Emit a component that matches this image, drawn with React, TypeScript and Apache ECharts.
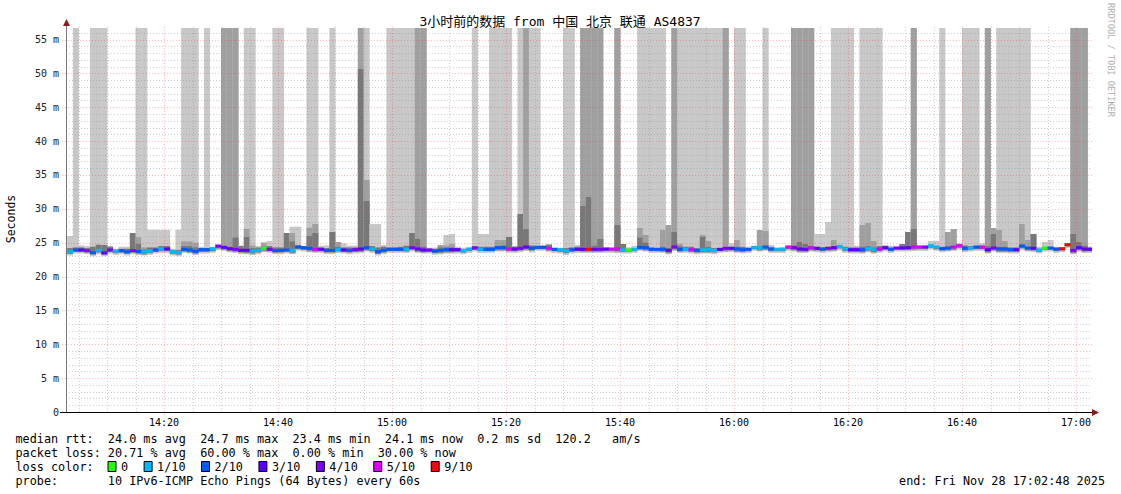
import { useEffect, useRef } from 'react';
import * as echarts from 'echarts';

// ---------- texts ----------
const TITLE = '3小时前的数据 from 中国 北京 联通 AS4837';
const WATERMARK = 'RRDTOOL / TOBI OETIKER';
const Y_NAME = 'Seconds';
const LINE_RTT = 'median rtt:  24.0 ms avg  24.7 ms max  23.4 ms min  24.1 ms now  0.2 ms sd  120.2   am/s';
const LINE_LOSS = 'packet loss: 20.71 % avg  60.00 % max  0.00 % min  30.00 % now';
const LINE_COLOR = 'loss color:';
const LINE_PROBE = 'probe:       10 IPv6-ICMP Echo Pings (64 Bytes) every 60s';
const LINE_END = 'end: Fri Nov 28 17:02:48 2025';

// ---------- axes ----------
const X_START = 2.8; // minutes after 14:00 -> 14:02:48
const X_END = 182.8; // 17:02:48
const FIRST_STEP = 3; // first 60 s step begins 14:03
const Y_MAX = 56.7;
const Y_TICKS = [0, 5, 10, 15, 20, 25, 30, 35, 40, 45, 50, 55];
const X_LABELS = ['14:20', '14:40', '15:00', '15:20', '15:40', '16:00', '16:20', '16:40', '17:00'];
const X_MINOR = ['14:05', '14:10', '14:15', '14:25', '14:30', '14:35', '14:45', '14:50', '14:55',
  '15:05', '15:10', '15:15', '15:25', '15:30', '15:35', '15:45', '15:50', '15:55',
  '16:05', '16:10', '16:15', '16:25', '16:30', '16:35', '16:45', '16:50', '16:55'];

// ---------- loss legend ----------
const LOSS_LEVELS = [0, 1, 2, 3, 4, 5, 9];
const LOSS_LABELS = ['0', '1/10', '2/10', '3/10', '4/10', '5/10', '9/10'];
const LOSS_COLORS = ['#26ff00', '#00b8ff', '#0059ff', '#5e00ff', '#7e00ff', '#dd00ff', '#ff0000'];

// ---------- data, one value per 60 s step (180 steps) ----------
const F = 57; // smoke reaching the top of the graph
const MEDIAN = [
  23.68, 23.92, 23.92, 23.82, 23.53, 23.87, 23.48, 23.92, 23.77, 23.82,
  23.68, 23.82, 23.72, 23.68, 23.77, 23.92, 24.07, 24.07, 23.68, 23.53,
  24.02, 23.92, 23.72, 23.97, 23.97, 24.07, 24.51, 24.32, 24.12, 24.02,
  23.87, 23.87, 23.77, 23.87, 24.17, 24.02, 23.82, 23.87, 23.92, 23.87,
  24.37, 24.27, 24.17, 24.02, 24.02, 23.87, 23.87, 24.02, 23.92, 23.87,
  23.97, 24.07, 24.27, 24.07, 23.68, 23.87, 24.02, 24.02, 24.02, 24.02,
  24.27, 24.07, 23.92, 23.92, 23.77, 23.87, 23.97, 23.97, 23.97, 23.82,
  24.07, 24.22, 24.02, 24.02, 24.02, 24.27, 24.27, 24.07, 24.07, 24.17,
  24.37, 24.17, 24.32, 24.32, 24.17, 24.02, 23.97, 23.77, 23.97, 24.02,
  24.02, 24.02, 24.02, 24.02, 24.07, 24.07, 24.07, 23.92, 23.92, 24.02,
  24.32, 24.27, 24.02, 24.02, 24.02, 23.87, 24.37, 24.02, 24.02, 23.97,
  23.87, 23.97, 23.97, 23.87, 24.02, 24.17, 24.17, 24.07, 23.97, 24.02,
  24.32, 24.22, 24.37, 24.07, 24.02, 24.07, 24.37, 24.27, 24.07, 24.02,
  24.27, 24.17, 24.07, 24.17, 24.27, 24.46, 24.07, 23.97, 23.97, 23.97,
  24.17, 23.97, 24.07, 24.27, 24.02, 24.22, 24.22, 24.27, 24.37, 24.37,
  24.37, 24.56, 24.37, 24.12, 24.22, 24.37, 24.56, 24.17, 24.22, 24.37,
  24.32, 23.97, 24.22, 24.07, 24.07, 23.97, 23.97, 24.51, 24.22, 24.17,
  23.92, 24.22, 24.22, 24.07, 24.12, 24.71, 23.87, 24.27, 24.07, 24.02,
];
const LOSS = [
  1, 2, 3, 4, 2, 1, 3, 4, 1, 2,
  2, 4, 2, 1, 1, 2, 1, 3, 1, 1,
  2, 2, 2, 2, 2, 1, 4, 3, 3, 4,
  3, 3, 1, 1, 0, 4, 2, 2, 2, 1,
  2, 2, 2, 5, 3, 2, 2, 1, 3, 2,
  4, 3, 2, 1, 2, 2, 2, 2, 2, 1,
  4, 3, 3, 4, 2, 2, 2, 3, 3, 1,
  1, 4, 1, 2, 2, 2, 2, 5, 3, 4,
  3, 2, 2, 2, 5, 2, 1, 1, 2, 3,
  3, 9, 3, 4, 3, 5, 5, 1, 0, 1,
  2, 2, 2, 2, 2, 3, 4, 2, 1, 5,
  2, 1, 1, 1, 3, 4, 3, 2, 2, 2,
  1, 1, 2, 2, 1, 1, 5, 4, 3, 3,
  5, 3, 2, 4, 3, 1, 1, 3, 3, 2,
  1, 1, 5, 3, 2, 4, 3, 3, 5, 5,
  4, 1, 1, 2, 2, 5, 5, 2, 1, 2,
  5, 3, 4, 2, 2, 2, 3, 2, 2, 3,
  1, 0, 2, 2, 9, 9, 4, 3, 3, 3,
];
const SMOKE_TOP = [
  25.99, F, 24.6, 24.5, F, F, F, 24.5, 24.1, 24.4,
  24.4, 26.43, F, F, 26.9, 26.9, 26.9, 26.9, 24.1, 26.9,
  F, F, F, 24.4, F, 24.4, 24.66, F, F, F,
  24.6, F, F, 24.5, 25.1, 25.25, F, F, 26.43, 27.37,
  27.37, 24.5, F, F, 24.56, 24.6, F, 25.1, 24.9, 24.56,
  24.56, F, F, 27.76, 27.76, 24.66, F, F, F, F,
  F, F, F, 24.27, 24.27, 24.66, 26.14, 26.28, 24.4, 24.27,
  24.27, F, 26.28, 26.28, F, F, F, F, 24.56, F,
  F, F, F, 24.66, 24.8, 24.27, 24.27, F, F, 24.66,
  F, F, F, F, 24.3, 24.2, F, 24.81, 24.32, 24.56,
  F, F, F, F, F, 27.61, F, F, F, F,
  F, F, F, F, F, F, 24.91, F, F, 24.41,
  24.5, 26.88, F, 24.66, 24.27, 24.27, 24.56, F, F, F,
  F, 26.28, 26.28, 28.06, F, F, F, F, 24.56, F,
  F, F, F, 24.66, 24.56, 24.41, 24.81, 26.58, F, 24.56,
  24.56, 25.25, 25.25, F, 26.58, 27.02, 24.9, F, F, F,
  24.9, F, 27.17, F, F, F, F, F, F, 26.28,
  24.41, 25.1, 25.4, 24.41, 24.27, 24.9, F, F, F, 24.41,
];
const SMOKE_MID = [
  0, 0, 0, 0, 0, 0, 0, 0, 0, 0,
  0, 0, 25.8, 24.3, 0, 0, 0, 0, 0, 0,
  25.2, 25.2, 25.0, 0, 0, 0, 0, F, F, F,
  0, 27.02, 24.6, 0, 24.9, 0, 0, 0, 0, 26.43,
  0, 0, 27.22, 27.76, 0, 0, 0, 25.1, 0, 0,
  0, F, 34.26, 0, 0, 0, 0, 0, 0, 24.6,
  0, F, F, 0, 0, 24.66, 24.6, 24.8, 0, 0,
  0, 0, 0, 0, 0, 25.4, 25.4, 0, 0, 0,
  F, 0, 0, 0, 0, 0, 0, 0, 0, 0,
  F, F, F, F, 0, 0, F, 0, 0, 0,
  27.17, 26.14, 0, 0, 26.88, 27.61, F, 24.81, 0, 0,
  0, 26.14, 25.25, 0, 0, F, 0, 25.4, 0, 0,
  0, 26.88, 26.73, 0, 0, 0, 0, F, F, F,
  F, 0, 0, 0, 25.4, 0, 0, 0, 0, 27.61,
  27.91, 25.25, 0, 0, 0, 0, 0, 0, F, 0,
  0, 0, 0, 0, 26.58, 27.02, 0, 0, 0, 0,
  0, F, 27.17, 26.88, 25.25, 0, 0, 27.76, 25.4, 0,
  0, 0, 0, 0, 0, 0, F, F, F, 0,
];
const SMOKE_DARK = [
  24.2, 24.3, 24.3, 24.2, 24.4, 24.7, 24.66, 24.4, 23.9, 24.1,
  24.1, 26.43, 24.8, 24.0, 24.3, 24.3, 24.5, 24.5, 23.9, 23.9,
  24.5, 24.5, 24.3, 24.2, 24.2, 24.3, 24.6, 24.5, 24.4, 25.74,
  24.5, 25.84, 24.2, 24.3, 24.4, 24.5, 24.3, 24.3, 26.43, 25.2,
  24.6, 24.4, 25.99, 26.43, 24.3, 24.2, 26.58, 24.4, 24.3, 24.3,
  24.3, 50.65, 31.16, 24.5, 24.3, 24.4, 24.3, 24.3, 24.4, 24.5,
  26.43, 25.55, 24.4, 24.1, 24.1, 24.3, 24.3, 24.3, 24.2, 24.0,
  24.2, 24.5, 24.4, 24.4, 24.4, 24.5, 24.6, 25.84, 24.4, 29.24,
  27.02, 24.6, 24.4, 24.4, 24.7, 24.1, 24.1, 24.2, 24.3, 24.4,
  30.42, 31.75, 24.56, 25.55, 24.2, 24.1, 27.61, 24.81, 24.1, 24.2,
  25.74, 25.0, 24.3, 24.2, 24.4, 24.2, 26.58, 24.5, 24.4, 24.4,
  24.2, 25.84, 24.4, 24.2, 24.2, 24.3, 24.4, 24.4, 24.4, 24.2,
  24.4, 24.4, 24.5, 24.3, 24.1, 24.1, 24.5, 24.6, 25.1, 24.8,
  24.5, 24.4, 24.3, 24.4, 24.5, 24.6, 24.4, 24.3, 24.3, 24.4,
  24.5, 24.3, 24.5, 24.5, 24.3, 24.3, 24.81, 26.58, 27.02, 24.5,
  24.5, 24.6, 24.5, 24.4, 24.4, 24.5, 24.8, 24.6, 24.5, 24.5,
  24.6, 24.5, 26.28, 24.4, 24.4, 24.3, 24.3, 24.7, 24.4, 26.28,
  24.1, 24.3, 24.3, 24.2, 24.2, 24.8, 26.28, 25.1, 24.56, 24.3,
];
const SMOKE_LOW = [
  23.1, 23.4, 23.4, 23.3, 23.0, 23.3, 23.0, 23.4, 23.2, 23.3,
  23.1, 23.3, 23.2, 23.1, 23.2, 23.4, 23.5, 23.5, 23.1, 23.0,
  23.5, 23.4, 23.2, 23.4, 23.4, 23.5, 23.9, 23.8, 23.6, 23.5,
  23.3, 23.3, 23.2, 23.3, 23.6, 23.5, 23.3, 23.3, 23.4, 23.3,
  23.8, 23.7, 23.6, 23.5, 23.5, 23.3, 23.3, 23.5, 23.4, 23.3,
  23.4, 23.5, 23.7, 23.5, 23.1, 23.3, 23.5, 23.5, 23.5, 23.5,
  23.7, 23.5, 23.4, 23.4, 23.2, 23.3, 23.4, 23.4, 23.4, 23.3,
  23.5, 23.7, 23.5, 23.5, 23.5, 23.7, 23.7, 23.5, 23.5, 23.6,
  23.8, 23.6, 23.8, 23.8, 23.6, 23.5, 23.4, 23.2, 23.4, 23.5,
  23.5, 23.5, 23.5, 23.5, 23.5, 23.5, 23.5, 23.4, 23.4, 23.5,
  23.8, 23.7, 23.5, 23.5, 23.5, 23.3, 23.8, 23.5, 23.5, 23.4,
  23.3, 23.4, 23.4, 23.3, 23.5, 23.6, 23.6, 23.5, 23.4, 23.5,
  23.8, 23.7, 23.8, 23.5, 23.5, 23.5, 23.8, 23.7, 23.5, 23.5,
  23.7, 23.6, 23.5, 23.6, 23.7, 23.9, 23.5, 23.4, 23.4, 23.4,
  23.6, 23.4, 23.5, 23.7, 23.5, 23.7, 23.7, 23.7, 23.8, 23.8,
  23.8, 24.0, 23.8, 23.6, 23.7, 23.8, 24.0, 23.6, 23.7, 23.8,
  23.8, 23.4, 23.7, 23.5, 23.5, 23.4, 23.4, 24.0, 23.7, 23.6,
  23.4, 23.7, 23.7, 23.5, 23.6, 24.2, 23.3, 23.7, 23.5, 23.5,
];

// ---------- style ----------
const MONO = "'DejaVu Sans Mono', 'Noto Sans CJK SC', monospace";
const C_LIGHT = '#c8c8c8';
const C_MEDIUM = '#a0a0a0';
const C_DARK = '#787878';
const C_MINOR = 'rgba(140,140,140,0.42)';
const C_MAJOR = 'rgba(255,40,40,0.32)';
const LEGEND_FS = 11.8;
const CW = LEGEND_FS * 0.602;

const toMin = (s: string) => {
  const [h, m] = s.split(':').map(Number);
  return (h - 14) * 60 + m;
};
const fmtMin = (v: number) => {
  const t = Math.round(v);
  const h = 14 + Math.floor(t / 60);
  const m = t % 60;
  return `${h}:${String(m).padStart(2, '0')}`;
};
const nb = (s: string) => s.replace(/ /g, '\u00a0');

function buildOption() {
  const smokeData = MEDIAN.map((_, i) => [
    FIRST_STEP + i, FIRST_STEP + i + 1, SMOKE_LOW[i], SMOKE_TOP[i], SMOKE_MID[i], SMOKE_DARK[i],
  ]);
  const medianData = MEDIAN.map((m, i) => [FIRST_STEP + i, FIRST_STEP + i + 1, m, LOSS[i]]);

  const graphics: any[] = [];
  graphics.push({
    type: 'text', x: 560, y: 21, z: 20,
    style: { text: TITLE, fontFamily: MONO, fontSize: 13, fill: '#000', align: 'center', verticalAlign: 'middle' },
  });
  graphics.push({
    type: 'text', x: 11, y: 219, rotation: Math.PI / 2, z: 20,
    style: { text: Y_NAME, fontFamily: MONO, fontSize: 11.5, fill: '#000', align: 'center', verticalAlign: 'middle' },
  });
  graphics.push({
    type: 'text', x: 1111, y: 60, rotation: -Math.PI / 2, z: 20,
    style: { text: WATERMARK, fontFamily: MONO, fontSize: 8.6, fill: '#b0b0b0', align: 'center', verticalAlign: 'middle' },
  });
  const LEFT = 15.5;
  const rows = [LINE_RTT, LINE_LOSS, LINE_COLOR, LINE_PROBE];
  const rowY = [438.5, 452.5, 466.5, 480.5];
  rows.forEach((t, k) => {
    graphics.push({
      type: 'text', x: LEFT, y: rowY[k], z: 20,
      style: { text: nb(t), fontFamily: MONO, fontSize: LEGEND_FS, fill: '#000', align: 'left', verticalAlign: 'middle' },
    });
  });
  graphics.push({
    type: 'text', x: 1105, y: 480.5, z: 20,
    style: { text: nb(LINE_END), fontFamily: MONO, fontSize: LEGEND_FS, fill: '#000', align: 'right', verticalAlign: 'middle' },
  });
  let sx = 108;
  LOSS_LABELS.forEach((lab, k) => {
    graphics.push({
      type: 'rect', z: 20,
      shape: { x: sx, y: 461.5, width: 8, height: 10 },
      style: { fill: LOSS_COLORS[k], stroke: '#000', lineWidth: 1 },
    });
    graphics.push({
      type: 'text', x: sx + 13, y: 466.5, z: 20,
      style: { text: lab, fontFamily: MONO, fontSize: LEGEND_FS, fill: '#000', align: 'left', verticalAlign: 'middle' },
    });
    sx += 12.5 + lab.length * CW + 16.5;
  });
  // axis lines and arrows
  graphics.push({ type: 'line', z: 20, shape: { x1: 66.5, y1: 412, x2: 66.5, y2: 24 }, style: { stroke: '#777', lineWidth: 1 } });
  graphics.push({ type: 'line', z: 21, shape: { x1: 60, y1: 412.5, x2: 1093, y2: 412.5 }, style: { stroke: '#000', lineWidth: 1 } });
  graphics.push({ type: 'polygon', z: 21, shape: { points: [[63, 26], [70, 26], [66.5, 19]] }, style: { fill: '#8b1a1a' } });
  graphics.push({ type: 'polygon', z: 21, shape: { points: [[1092, 409], [1092, 416], [1099, 412.5]] }, style: { fill: '#8b1a1a' } });

  const majorX = X_LABELS.map(toMin);
  const minorX = X_MINOR.map(toMin);

  return {
    animation: false,
    backgroundColor: '#fff',
    grid: { left: 66, right: 29, top: 28, bottom: 82, containLabel: false },
    xAxis: {
      type: 'value', min: X_START, max: X_END,
      axisLine: { show: false }, axisTick: { show: false, customValues: majorX }, splitLine: { show: false },
      axisLabel: {
        customValues: majorX, formatter: (v: number) => fmtMin(v),
        fontFamily: MONO, fontSize: 10, color: '#000', margin: 5,
      },
    },
    yAxis: {
      type: 'value', min: 0, max: Y_MAX, interval: 5,
      axisLine: { show: false }, axisTick: { show: false }, splitLine: { show: false },
      axisLabel: {
        showMaxLabel: false,
        formatter: (v: number) => (Y_TICKS.includes(v) ? (v === 0 ? '0' : `${v} m`) : ''),
        fontFamily: MONO, fontSize: 10, color: '#222', margin: 7,
      },
    },
    graphic: { elements: graphics },
    series: [
      {
        type: 'custom', z: 1, silent: true, clip: true,
        encode: { x: [0, 1], y: [2, 3] },
        data: smokeData,
        renderItem: (params: any, api: any) => {
          const x0 = api.value(0), x1 = api.value(1);
          const low = api.value(2), top = api.value(3), mid = api.value(4), dark = api.value(5);
          const xa = api.coord([x0, low])[0];
          const xb = api.coord([x1, low])[0];
          const w = xb - xa + 0.4;
          const yOf = (v: number) => api.coord([x0, Math.min(v, Y_MAX)])[1];
          const yLow = yOf(low);
          const kids: any[] = [];
          const yt = yOf(top);
          kids.push({ type: 'rect', shape: { x: xa, y: yt, width: w, height: yLow - yt }, style: { fill: C_LIGHT } });
          if (mid > 0) {
            const ym = yOf(mid);
            const yb = yOf(low + 0.1);
            kids.push({ type: 'rect', shape: { x: xa, y: ym, width: w, height: yb - ym }, style: { fill: C_MEDIUM } });
          }
          const yd = yOf(dark);
          const ydb = yOf(low + 0.25);
          if (ydb > yd) kids.push({ type: 'rect', shape: { x: xa, y: yd, width: w, height: ydb - yd }, style: { fill: C_DARK } });
          return { type: 'group', children: kids };
        },
      },
      {
        type: 'custom', z: 3, silent: true, clip: false,
        data: [[X_START + 1, 1]],
        renderItem: (params: any, api: any) => {
          const kids: any[] = [];
          const xl = api.coord([X_START, 0])[0];
          const xr = api.coord([X_END, 0])[0];
          const yb = api.coord([X_START, 0])[1];
          const yt = api.coord([X_START, Y_MAX])[1] - 2;
          for (let v = 1; v < Y_MAX; v += 1) {
            if (v % 5 === 0) continue;
            const y = Math.round(api.coord([X_START, v])[1]) + 0.5;
            kids.push({ type: 'line', shape: { x1: xl, y1: y, x2: xr, y2: y }, style: { stroke: C_MINOR, lineWidth: 1, lineDash: [1, 2] } });
          }
          minorX.forEach((t) => {
            const x = Math.round(api.coord([t, 0])[0]) + 0.5;
            kids.push({ type: 'line', shape: { x1: x, y1: yb, x2: x, y2: yt }, style: { stroke: C_MINOR, lineWidth: 1, lineDash: [1, 2] } });
          });
          Y_TICKS.forEach((v) => {
            if (v === 0) return;
            const y = Math.round(api.coord([X_START, v])[1]) + 0.5;
            kids.push({ type: 'line', shape: { x1: xl - 4, y1: y, x2: xr, y2: y }, style: { stroke: C_MAJOR, lineWidth: 1, lineDash: [1, 2] } });
          });
          majorX.forEach((t) => {
            const x = Math.round(api.coord([t, 0])[0]) + 0.5;
            kids.push({ type: 'line', shape: { x1: x, y1: yb + 3, x2: x, y2: yt }, style: { stroke: C_MAJOR, lineWidth: 1, lineDash: [1, 2] } });
          });
          return { type: 'group', children: kids };
        },
      },
      {
        type: 'custom', z: 5, silent: true, clip: true,
        encode: { x: [0, 1], y: 2 },
        data: medianData,
        renderItem: (params: any, api: any) => {
          const x0 = api.value(0), x1 = api.value(1), m = api.value(2), loss = api.value(3);
          const p0 = api.coord([x0, m]);
          const p1 = api.coord([x1, m]);
          const idx = LOSS_LEVELS.indexOf(loss);
          return {
            type: 'rect',
            shape: { x: p0[0], y: p0[1] - 1.5, width: p1[0] - p0[0] + 0.4, height: 3 },
            style: { fill: LOSS_COLORS[idx >= 0 ? idx : 0] },
          };
        },
      },
    ],
  };
}

export default function App() {
  const ref = useRef<HTMLDivElement>(null);
  useEffect(() => {
    if (!ref.current) return;
    const chart = echarts.init(ref.current, undefined, { renderer: 'svg' });
    chart.setOption(buildOption() as any);
    return () => chart.dispose();
  }, []);
  return (
    <div
      ref={ref}
      style={{ position: 'fixed', left: 0, top: 0, width: 1121, height: 494, background: '#fff' }}
    />
  );
}
